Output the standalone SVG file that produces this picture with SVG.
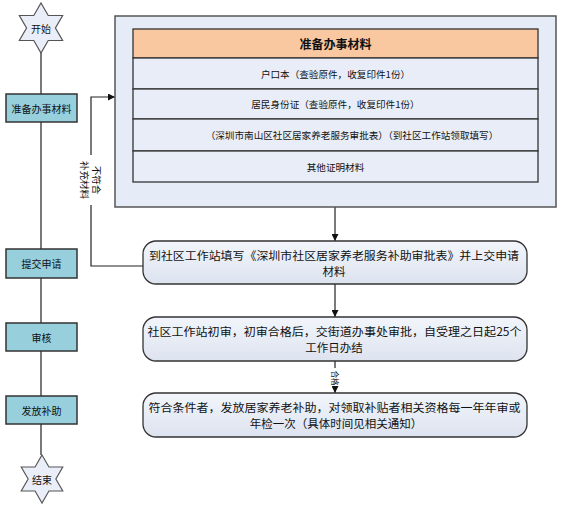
<svg xmlns="http://www.w3.org/2000/svg" width="562" height="510" viewBox="0 0 562 510">
<style>
text{font-family:"Noto Sans CJK SC","Noto Sans",sans-serif;fill:#111;text-anchor:middle;dominant-baseline:central}
.star{fill:#e9eef8;stroke:#555;stroke-width:1.2}
.lbox{fill:#97cfdc;stroke:#333;stroke-width:1.5}
.cont{fill:#e6ecf7;stroke:#555;stroke-width:1.5}
.row{fill:#e9edf7;stroke:#333;stroke-width:1.3}
.hdr{fill:#f9c8a0;stroke:#333;stroke-width:1.3}
.rbox{fill:url(#g);stroke:#333;stroke-width:1.3}
.ln{fill:none;stroke:#222;stroke-width:1.2}
.lt{font-size:10px}
.bt{font-size:11.5px}
.tt{font-size:9.6px}
</style>
<defs>
<linearGradient id="g" x1="0" y1="0" x2="0" y2="1"><stop offset="0" stop-color="#f2f5fb"/><stop offset="1" stop-color="#dde3ef"/></linearGradient>
<marker id="a" viewBox="0 0 10 10" refX="10" refY="5" markerWidth="7" markerHeight="7" orient="auto" markerUnits="userSpaceOnUse"><path d="M0,0 L10,5 L0,10 Z" fill="#111"/></marker>
<path id="hex" d="M0,-25 L7.22,-12.5 L21.65,-12.5 L14.43,0 L21.65,12.5 L7.22,12.5 L0,25 L-7.22,12.5 L-21.65,12.5 L-14.43,0 L-21.65,-12.5 L-7.22,-12.5 Z"/>
</defs>
<g id="connectors">
<path class="ln" stroke="#555" d="M41,53 V94 M41,122 V249 M41,278 V323 M41,351 V396 M41,424 V455"/>
<path class="ln" d="M335,207 V241" marker-end="url(#a)"/>
<path class="ln" d="M335,284 V317" marker-end="url(#a)"/>
<path class="ln" d="M335,361 V368 M335,388 V393" marker-end="url(#a)"/>
<path class="ln" d="M143,266 H91 V205 M91,155 V97 H115" marker-end="url(#a)"/>
<text transform="translate(91,180) rotate(90)" font-size="9.5" fill="#333"><tspan x="0" y="-6">不符合</tspan><tspan x="0" y="6">补充材料</tspan></text>
<text transform="translate(335,378) rotate(90)" font-size="7.5">合格</text>
</g>
<g id="start"><use href="#hex" class="star" transform="translate(41,28)"/><text x="41" y="28" class="lt">开始</text></g>
<g id="n1"><rect class="lbox" x="6" y="94" width="71" height="28"/><text x="41.5" y="108" class="lt">准备办事材料</text></g>
<g id="n2"><rect class="lbox" x="6" y="249" width="71" height="29"/><text x="41.5" y="263.5" class="lt">提交申请</text></g>
<g id="n3"><rect class="lbox" x="6" y="323" width="71" height="28"/><text x="41.5" y="337" class="lt">审核</text></g>
<g id="n4"><rect class="lbox" x="6" y="396" width="71" height="28"/><text x="41.5" y="410" class="lt">发放补助</text></g>
<g id="end"><use href="#hex" class="star" transform="translate(42,479) scale(0.96)"/><text x="42" y="479" class="lt">结束</text></g>
<g id="materials">
<rect class="cont" x="115" y="16" width="441" height="191"/>
<rect class="hdr" x="133" y="29" width="405" height="29"/>
<text x="335.5" y="43.5" font-size="12" font-weight="bold">准备办事材料</text>
<rect class="row" x="133" y="58" width="405" height="31"/>
<text x="335.5" y="73.5" class="tt">户口本（查验原件，收复印件1份）</text>
<rect class="row" x="133" y="89" width="405" height="30"/>
<text x="335.5" y="104" class="tt">居民身份证（查验原件，收复印件1份）</text>
<rect class="row" x="133" y="119" width="405" height="32"/>
<text x="352" y="135" class="tt">（深圳市南山区社区居家养老服务审批表）（到社区工作站领取填写）</text>
<rect class="row" x="133" y="151" width="405" height="31"/>
<text x="335.5" y="166.5" class="tt">其他证明材料</text>
</g>
<g id="b1"><rect class="rbox" x="143" y="241" width="384" height="43" rx="13"/><text x="334" y="255" class="bt" textLength="370" lengthAdjust="spacingAndGlyphs">到社区工作站填写《深圳市社区居家养老服务补助审批表》并上交申请</text><text x="334" y="270.5" class="bt">材料</text></g>
<g id="b2"><rect class="rbox" x="143" y="317" width="384" height="44" rx="13"/><text x="334.5" y="331" class="bt" textLength="374" lengthAdjust="spacingAndGlyphs">社区工作站初审，初审合格后，交街道办事处审批，自受理之日起25个</text><text x="334" y="346.5" class="bt">工作日办结</text></g>
<g id="b3"><rect class="rbox" x="143" y="393" width="384" height="44" rx="13"/><text x="334.5" y="407" class="bt" textLength="372" lengthAdjust="spacingAndGlyphs">符合条件者，发放居家养老补助，对领取补贴者相关资格每一年年审或</text><text x="336" y="422.5" class="bt">年检一次（具体时间见相关通知）</text></g>
</svg>
